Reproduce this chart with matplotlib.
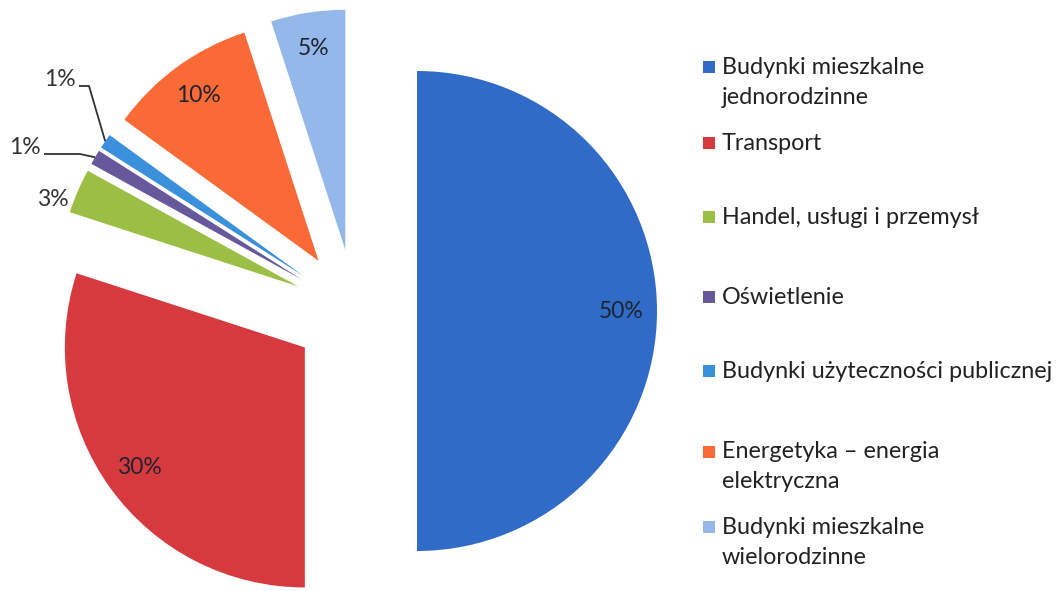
import numpy as np
import matplotlib.pyplot as plt
from matplotlib.patches import Rectangle

plt.rcParams['font.family'] = ['Lato', 'DejaVu Sans']

# data
categories = [
    "Budynki mieszkalne\njednorodzinne",
    "Transport",
    "Handel, usługi i przemysł",
    "Oświetlenie",
    "Budynki użyteczności publicznej",
    "Energetyka – energia\nelektryczna",
    "Budynki mieszkalne\nwielorodzinne",
]
shares = [50, 30, 3, 1, 1, 10, 5]
colors = ["#2F6BC7", "#D63A3F", "#9BBE45", "#67589C", "#3A90DA", "#FA6A36", "#94B8EA"]

# layout in pixels (image is 1057 x 591, y measured from the top)
W, H = 1057, 591
CX, CY, R = 355, 311, 240
EXPLODE = 62
legend_y = [67, 143, 217, 297, 371, 452, 527]
line_gap = 30
outside_pos = {2: (53, 200), 3: (25, 148), 4: (60, 80)}

fig = plt.figure(figsize=(W / 100, H / 100), dpi=100)
ax = fig.add_axes([0, 0, 1, 1])

wedges, texts, autotexts = ax.pie(
    shares, colors=colors, startangle=90, counterclock=False,
    radius=R, center=(CX, H - CY), explode=[EXPLODE] * len(shares),
    autopct=lambda p: f"{p:.0f}%", pctdistance=0.85,
    textprops=dict(fontsize=16.5, color="#1F2430"),
    wedgeprops=dict(linewidth=0),
)
ax.set_xlim(0, W)
ax.set_ylim(0, H)
ax.set_aspect("auto")
ax.axis("off")

# small slices get their labels outside
for i, (px, py) in outside_pos.items():
    autotexts[i].set_position((px, H - py))
    autotexts[i].set_color("#333333")

# leader lines for the two 1% slices
for i in (3, 4):
    w = wedges[i]
    tm = np.deg2rad((w.theta1 + w.theta2) / 2)
    arc_pt = (w.center[0] + R * np.cos(tm), w.center[1] + R * np.sin(tm))
    px, py = outside_pos[i]
    start = (px + 19, H - py - 6)
    elbow = (px + 29 if i == 4 else px + 55, H - py - 6)
    ax.plot([start[0], elbow[0], arc_pt[0]], [start[1], elbow[1], arc_pt[1]],
            color="#333333", lw=1.3, solid_capstyle="butt")

# legend drawn by hand to follow the uneven spacing of the original
for lab, col, ly in zip(categories, colors, legend_y):
    ax.add_patch(Rectangle((703, H - ly - 6), 12, 12, color=col, lw=0))
    for k, line in enumerate(lab.split("\n")):
        ax.text(722, H - ly - k * line_gap, line, fontsize=16.8, color="#222222",
                va="center", ha="left")

fig.savefig("out.png", dpi=100)
